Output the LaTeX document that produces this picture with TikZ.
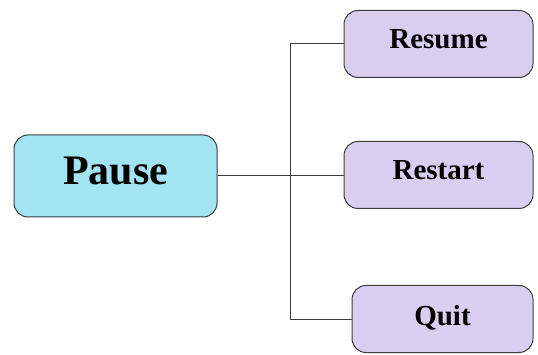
\documentclass[tikz,border=0pt]{standalone}
\usepackage{fontspec}
\setmainfont{Liberation Serif}
\definecolor{pausefill}{RGB}{162,228,242}
\definecolor{choicefill}{RGB}{216,206,240}
\definecolor{boxline}{RGB}{60,60,60}

\begin{document}
\begin{tikzpicture}[x=1pt,y=-1pt,
    menubox/.style={draw=boxline,line width=1pt,rounded corners=14pt,inner sep=0pt},
    choice/.style={menubox,fill=choicefill,minimum width=189pt,minimum height=67pt,
      text depth=9pt,font=\fontsize{29}{34}\selectfont\bfseries}]
    \useasboundingbox (0,0) rectangle (538,355);
    \node[menubox,fill=pausefill,minimum width=203pt,minimum height=82pt,text depth=11pt,
      font=\fontsize{42}{50}\selectfont\bfseries] (pause) at (115.5,176) {Pause};
    \node[choice] (resume) at (438.5,44) {Resume};
    \node[choice] (restart) at (438.5,175) {Restart};
    \node[choice,minimum width=181pt,text depth=7pt] (quit) at (442.5,319) {Quit};
    \coordinate (trunk) at (290,175);
    \draw[line width=1pt,boxline] (pause.east) -- (pause.east -| restart.west);
    \draw[line width=1pt,boxline] (resume.west) -- (resume.west -| trunk)
      -- (quit.west -| trunk) -- (quit.west);
\end{tikzpicture}
\end{document}
